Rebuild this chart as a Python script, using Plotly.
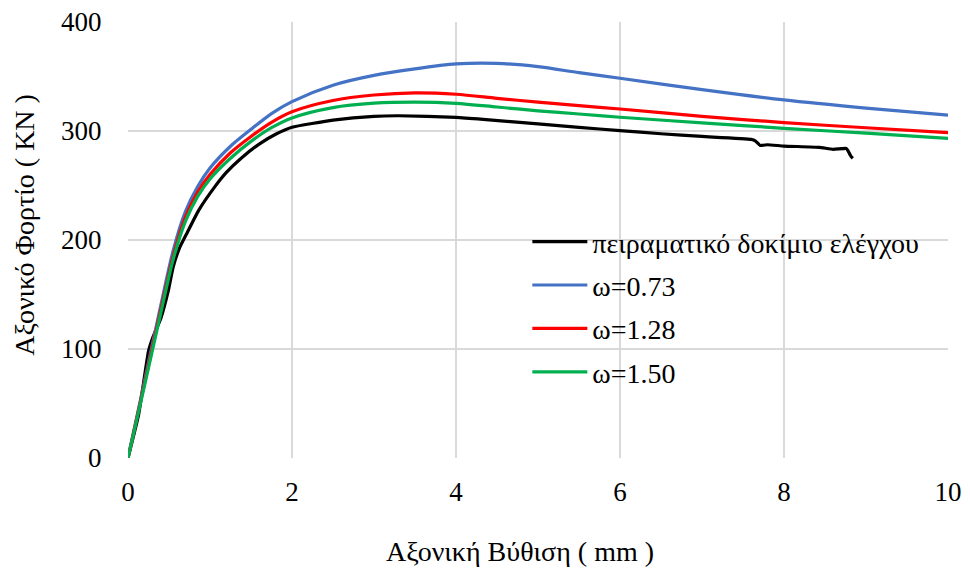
import plotly.graph_objects as go

# ---- data ----
exp_x = [0, 0.13, 0.25, 0.3, 0.4, 0.49, 0.55, 0.63, 0.71, 0.86, 1.06, 1.2, 1.38, 1.6, 1.8, 2.0, 2.5,
         3.0, 3.3, 4.0, 4.33, 5.0, 5.5, 6.0, 6.5, 7.0, 7.6, 7.65, 7.71, 7.8, 8.0, 8.43, 8.6,
         8.76, 8.78, 8.8, 8.82, 8.84]
exp_y = [0, 40, 98, 110, 128, 153, 175, 193, 205, 227, 249, 262, 275, 288, 297, 303.5, 310,
         313.5, 314, 312.5, 310.7, 306.5, 303.4, 300.3, 297.5, 295, 292.3, 291, 286.8, 287.4, 286.2, 285, 283.2,
         284, 282, 279, 276.5, 275]

sim_x = [0, 0.2, 0.4, 0.55, 0.7, 0.85, 1.0, 1.25, 1.5, 1.75, 2.0, 2.5, 3.0, 3.5, 4.0, 4.5, 5.0,
         5.5, 6.0, 7.0, 8.0, 9.0, 10.0]
w073_y = [0, 70, 140, 190, 226, 249, 266, 286, 301.5, 316, 327, 342, 351, 357, 361.5, 362, 359,
          353.5, 348.4, 338, 328.5, 321, 314.5]
w128_y = [0, 68, 136, 185, 221, 244, 260, 280, 295, 308, 317.7, 328, 333, 335, 333.7, 330, 326.5,
          323.3, 320.2, 313.5, 307.7, 303, 298.5]
w150_y = [0, 66, 133, 182, 217, 240, 256, 275, 290.5, 303, 312, 321.5, 325.5, 326.5, 325.4, 322, 318.5,
          315.6, 312.6, 307.5, 302.5, 298, 293.3]

names = ["πειραματικό δοκίμιο ελέγχου", "ω=0.73", "ω=1.28", "ω=1.50"]
colors = ["#000000", "#4472C4", "#FF0000", "#00B050"]

x_ticks = [0, 2, 4, 6, 8, 10]
y_ticks = [0, 100, 200, 300, 400]
x_title = "Αξονική Βύθιση ( mm )"
y_title = "Αξονικό Φορτίο ( KN )"

FONT = "'Liberation Serif', 'Times New Roman', 'DejaVu Serif', 'Noto Serif', serif"

fig = go.Figure()
fig.add_trace(go.Scatter(x=exp_x, y=exp_y, mode="lines", name=names[0], legendgroup="g0",
                         line=dict(color=colors[0], width=3.2, shape="spline", smoothing=0.4)))
for i, (ys, nm, c) in enumerate(zip([w073_y, w128_y, w150_y], names[1:], colors[1:])):
    fig.add_trace(go.Scatter(x=sim_x, y=ys, mode="lines", name=nm, legendgroup=f"g{i+1}",
                             line=dict(color=c, width=3.2, shape="spline", smoothing=0.8)))

fig.update_layout(
    width=970, height=572,
    margin=dict(l=128, r=22, t=22, b=114),
    paper_bgcolor="white", plot_bgcolor="white",
    font=dict(family=FONT, size=27, color="#000000"),
    showlegend=True,
    legend=dict(x=0.487, y=0.553, xanchor="left", yanchor="top",
                bgcolor="rgba(0,0,0,0)", font=dict(family=FONT, size=28),
                itemwidth=55, tracegroupgap=4),
    xaxis=dict(range=[0, 10], tickvals=x_ticks, ticktext=[str(v) for v in x_ticks],
               showgrid=True, gridcolor="#D9D9D9", gridwidth=1.5, automargin=False,
               zeroline=False, showline=False, ticks="outside", ticklen=10, tickcolor="rgba(0,0,0,0)",
               tickfont=dict(family=FONT, size=27)),
    yaxis=dict(range=[0, 400], tickvals=y_ticks, ticktext=[str(v) for v in y_ticks],
               showgrid=True, gridcolor="#D9D9D9", gridwidth=1.5, automargin=False,
               zeroline=False, showline=False, ticks="outside", ticklen=20, tickcolor="rgba(0,0,0,0)",
               tickfont=dict(family=FONT, size=27)),
    annotations=[
        dict(text=x_title, xref="paper", yref="paper", x=0.478, y=-0.215,
             xanchor="center", yanchor="middle", showarrow=False,
             font=dict(family=FONT, size=28)),
        dict(text=y_title, xref="paper", yref="paper", x=-0.1256, y=0.535, textangle=-90,
             xanchor="center", yanchor="middle", showarrow=False,
             font=dict(family=FONT, size=28)),
    ],
)

fig.write_html("out.html")
